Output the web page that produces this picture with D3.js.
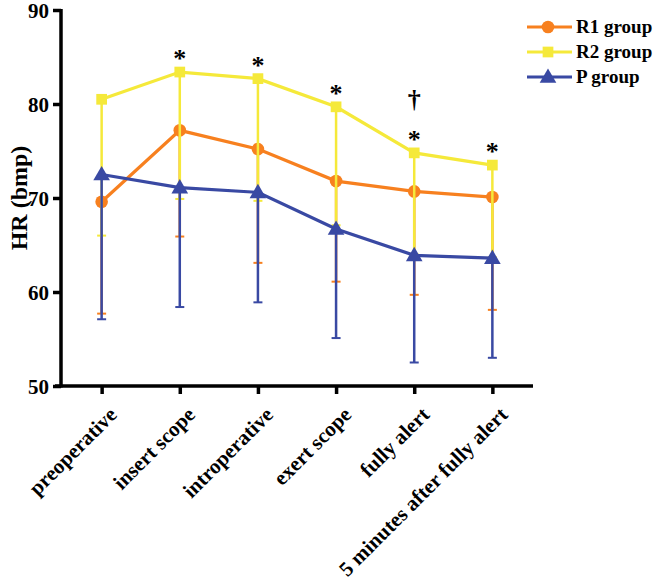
<!DOCTYPE html>
<html>
<head>
<meta charset="utf-8">
<script src="https://cdn.jsdelivr.net/npm/d3@7"></script>
<style>
  body { margin: 0; background: #fff; }
  text { font-family: "Liberation Serif", "Times New Roman", serif; font-weight: bold; }
</style>
</head>
<body>
<script>
    // categories and group means
    const categories = ["preoperative", "insert scope", "introperative", "exert scope", "fully alert", "5 minutes after fully alert"];
    const r1Mean = [69.6, 77.2, 75.2, 71.8, 70.7, 70.1];
    const r1Low  = [57.7, 65.9, 63.1, 61.1, 59.7, 58.1];
    const r2Mean = [80.5, 83.4, 82.7, 79.7, 74.8, 73.5];
    const r2Low  = [66.0, 69.9, 69.7, 67.1, 64.0, 63.7];
    const pMean  = [72.5, 71.1, 70.6, 66.7, 63.9, 63.6];
    const pLow   = [57.1, 58.4, 58.9, 55.1, 52.5, 53.0];
    const stars   = [false, true, true, true, true, true];
    const daggers = [false, false, false, false, true, false];
    const yTicks = [50, 60, 70, 80, 90];

    let width = 656,
        height = 581;

    let svg = d3.select("body")
        .append("svg")
        .attr("width", width)
        .attr("height", height);

    let x = d3.scalePoint()
        .domain(categories)
        .range([61, 533])
        .padding(0.52);

    let y = d3.scaleLinear()
        .domain([50, 90])
        .range([386, 10]);

    const series = [
        { name: "R1 group", mean: r1Mean, low: r1Low, color: "#F7801F", shape: d3.symbolCircle, size: 125 },
        { name: "R2 group", mean: r2Mean, low: r2Low, color: "#F5E93A", shape: d3.symbolSquare, size: 115 },
        { name: "P group",  mean: pMean,  low: pLow,  color: "#3949A3", shape: d3.symbolTriangle, size: 120 }
    ];

    // y axis
    let yAxis = svg.append("g")
        .attr("transform", "translate(61,0)")
        .call(d3.axisLeft(y).tickValues(yTicks).tickSize(8).tickPadding(4).tickSizeOuter(0));
    yAxis.select(".domain").attr("stroke", "#000").attr("stroke-width", 3.5)
        .attr("d", "M0," + (y(90) - 1) + "V" + (y(50) + 1.5));
    yAxis.selectAll(".tick line").attr("stroke-width", 3.5);
    yAxis.selectAll(".tick text")
        .style("font-size", "21px")
        .attr("fill", "#000")
        .attr("dy", "0.35em");

    // x axis
    let xAxis = svg.append("g")
        .attr("transform", "translate(0,386)")
        .call(d3.axisBottom(x).tickSize(8).tickSizeOuter(0));
    xAxis.select(".domain").attr("stroke-width", 3.5).attr("d", "M55,0H533");
    xAxis.selectAll(".tick line").attr("stroke-width", 3.5);
    xAxis.selectAll(".tick text")
        .style("font-size", "21px")
        .attr("fill", "#000")
        .attr("text-anchor", "end")
        .attr("y", 0)
        .attr("dy", 0)
        .attr("transform", "translate(16,30) rotate(-45)");

    // y label
    svg.append("text")
        .attr("transform", "translate(27,198) rotate(-90)")
        .attr("text-anchor", "middle")
        .style("font-size", "24px")
        .text("HR (bmp)");

    // series: error bars, line, markers (orange under yellow under blue)
    series.forEach(function(s) {
        let g = svg.append("g");
        let idx = d3.range(categories.length);
        g.selectAll(".stem").data(idx).join("line")
            .attr("x1", i => x(categories[i])).attr("x2", i => x(categories[i]))
            .attr("y1", i => y(s.mean[i])).attr("y2", i => y(s.low[i]))
            .attr("stroke", s.color).attr("stroke-width", 2.5);
        g.selectAll(".cap").data(idx).join("line")
            .attr("x1", i => x(categories[i]) - 4.5).attr("x2", i => x(categories[i]) + 4.5)
            .attr("y1", i => y(s.low[i])).attr("y2", i => y(s.low[i]))
            .attr("stroke", s.color).attr("stroke-width", 2);
        g.append("path")
            .datum(idx)
            .attr("fill", "none")
            .attr("stroke", s.color)
            .attr("stroke-width", 3.2)
            .attr("d", d3.line().x(i => x(categories[i])).y(i => y(s.mean[i])));
        g.selectAll(".mk").data(idx).join("path")
            .attr("transform", i => "translate(" + x(categories[i]) + "," + (y(s.mean[i]) + (s.shape === d3.symbolTriangle ? 1 : 0)) + ")")
            .attr("d", d3.symbol().type(s.shape).size(s.size))
            .attr("fill", s.color);
    });

    // significance marks above R2
    categories.forEach(function(c, i) {
        if (stars[i]) {
            svg.append("text")
                .attr("x", x(c)).attr("y", y(r2Mean[i]) - 5)
                .attr("text-anchor", "middle")
                .style("font-size", "26px")
                .text("*");
        }
        if (daggers[i]) {
            svg.append("text")
                .attr("x", x(c)).attr("y", y(r2Mean[i]) - 45)
                .attr("text-anchor", "middle")
                .style("font-size", "26px")
                .text("\u2020");
        }
    });

    // legend
    let legend = svg.append("g").attr("transform", "translate(527,27)");
    series.forEach(function(s, i) {
        let row = legend.append("g").attr("transform", "translate(0," + (i * 25) + ")");
        row.append("line").attr("x1", 0).attr("x2", 45).attr("y1", 0).attr("y2", 0)
            .attr("stroke", s.color).attr("stroke-width", 3.2);
        row.append("path")
            .attr("transform", "translate(21," + (s.shape === d3.symbolTriangle ? 1 : 0) + ")")
            .attr("d", d3.symbol().type(s.shape).size(s.size))
            .attr("fill", s.color);
        row.append("text")
            .attr("x", 49).attr("y", 0).attr("dy", "0.33em")
            .style("font-size", "19px")
            .text(s.name);
    });
</script>
</body>
</html>
